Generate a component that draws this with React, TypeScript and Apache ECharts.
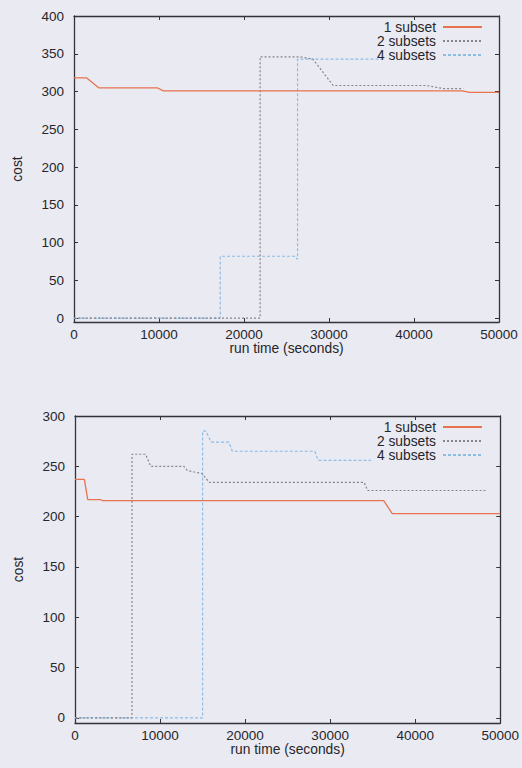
import React, { useEffect, useRef } from "react";
import * as echarts from "echarts";

const seriesNames = ["1 subset", "2 subsets", "4 subsets"];
const xTicks = [0, 10000, 20000, 30000, 40000, 50000];
const yTicksTop = [0, 50, 100, 150, 200, 250, 300, 350, 400];
const yTicksBottom = [0, 50, 100, 150, 200, 250, 300];

// top chart
const topOne = [[0, 318], [1500, 318], [2900, 305], [9800, 305], [10500, 301], [45700, 301], [46500, 299], [50000, 299]];
const topTwo = [[0, 0], [21900, 0], [21900, 346], [26600, 346], [28100, 343], [30500, 308], [41500, 308], [43400, 304], [45800, 304]];
const topFour = [[0, 0], [17200, 0], [17200, 82], [26000, 82], [26300, 78], [26300, 343], [36300, 343]];

// bottom chart
const botOne = [[0, 237], [1100, 237], [1500, 217], [3000, 217], [3200, 216], [36300, 216], [37300, 203], [50000, 203]];
const botTwo = [[0, 0], [6700, 0], [6700, 262], [8300, 262], [8900, 250], [12800, 250], [13200, 246], [14200, 244], [14900, 243], [15800, 234], [34000, 234], [34400, 226], [48300, 226]];
const botFour = [[0, 0], [15000, 0], [15000, 285], [15400, 285], [16000, 274], [18100, 274], [18500, 265], [28200, 265], [28600, 256], [34800, 256]];

const FONT = "Liberation Sans, Arial, sans-serif";
const TXT = "#26262a";
const AX = "#333338";
const colors = ["#e8734f", "#86868a", "#8cbce6"];
const lineTypes: any[] = ["solid", [2, 2], [3, 2]];

export default function App() {
  const ref = useRef<HTMLDivElement>(null);
  useEffect(() => {
    if (!ref.current) return;
    const chart = echarts.init(ref.current, null, { renderer: "svg" });
    const grids = [
      { left: 74, top: 16, width: 425, height: 306 },
      { left: 75, top: 416, width: 426, height: 307 },
    ];
    const mkX = (gi: number, pos: "bottom" | "top") => ({
      type: "value",
      gridIndex: gi,
      position: pos,
      min: 0,
      max: 50000,
      interval: 10000,
      name: pos === "bottom" ? "run time (seconds)" : "",
      nameLocation: "middle",
      nameGap: 19,
      nameTextStyle: { color: TXT, fontFamily: FONT, fontSize: 13.8 },
      axisLine: { show: true, onZero: false, lineStyle: { color: AX, width: 1.3 } },
      axisTick: { show: true, inside: true, length: 4, lineStyle: { color: AX } },
      axisLabel: {
        show: pos === "bottom",
        color: TXT,
        fontFamily: FONT,
        fontSize: 13.5,
        margin: 5,
        customValues: xTicks,
        formatter: (v: number) => String(v),
      },
      splitLine: { show: false },
    });
    const mkY = (gi: number, pos: "left" | "right", max: number, ticks: number[]) => ({
      type: "value",
      gridIndex: gi,
      position: pos,
      min: -5,
      max,
      name: pos === "left" ? "cost" : "",
      nameLocation: "middle",
      nameGap: 50,
      nameTextStyle: { color: TXT, fontFamily: FONT, fontSize: 13.8 },
      axisLine: { show: true, onZero: false, lineStyle: { color: AX, width: 1.3 } },
      axisTick: { show: true, inside: true, length: 4, lineStyle: { color: AX }, customValues: ticks },
      axisLabel: {
        show: pos === "left",
        color: TXT,
        fontFamily: FONT,
        fontSize: 13.5,
        margin: 10,
        customValues: ticks,
        formatter: (v: number) => String(v),
      },
      splitLine: { show: false },
    });
    const data = [
      [topOne, topTwo, topFour],
      [botOne, botTwo, botFour],
    ];
    const series: any[] = [];
    data.forEach((set, gi) => {
      set.forEach((d, si) => {
        series.push({
          type: "line",
          name: seriesNames[si],
          xAxisIndex: gi * 2,
          yAxisIndex: gi * 2,
          data: d,
          symbol: "none",
          z: 3 - si,
          lineStyle: { color: colors[si], width: si === 0 ? 1.3 : 1.2, type: lineTypes[si] },
          itemStyle: { color: colors[si] },
        });
      });
    });
    const mkLegend = (top: number) => ({
      orient: "vertical",
      right: 39,
      top,
      padding: 0,
      align: "right",
      itemWidth: 39,
      itemHeight: 12,
      itemGap: 0,
      selectedMode: false,
      itemStyle: { opacity: 0 },
      textStyle: { color: TXT, fontFamily: FONT, fontSize: 13.8, lineHeight: 12, padding: [0, 2, 0, 0] },
      data: seriesNames,
    });
    chart.setOption({
      animation: false,
      backgroundColor: "#eaeaf2",
      grid: grids,
      xAxis: [mkX(0, "bottom"), mkX(0, "top"), mkX(1, "bottom"), mkX(1, "top")],
      yAxis: [
        mkY(0, "left", 400, yTicksTop),
        mkY(0, "right", 400, yTicksTop),
        mkY(1, "left", 300, yTicksBottom),
        mkY(1, "right", 300, yTicksBottom),
      ],
      legend: [mkLegend(20), mkLegend(420)],
      series,
    });
    return () => chart.dispose();
  }, []);
  return (
    <div
      ref={ref}
      style={{ position: "absolute", left: 0, top: 0, width: 522, height: 768 }}
    />
  );
}
